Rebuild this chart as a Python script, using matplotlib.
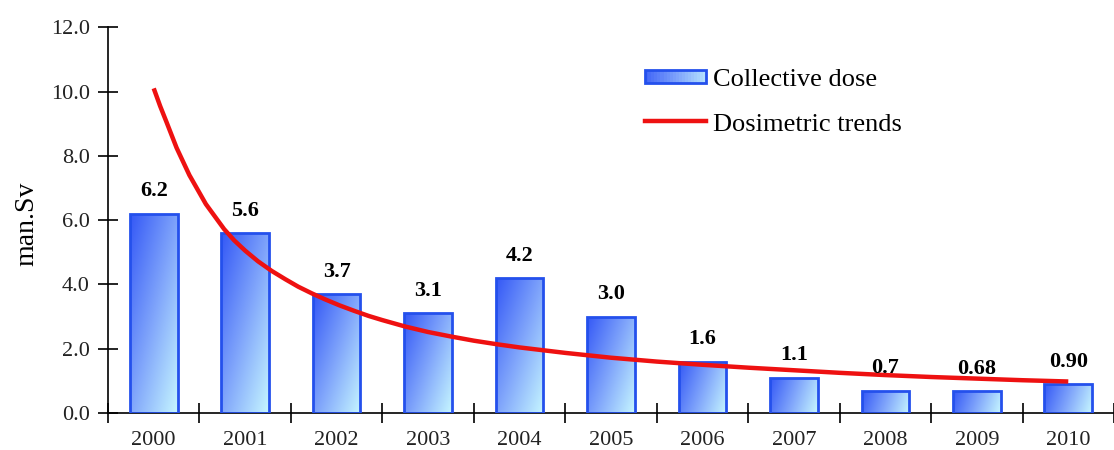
import numpy as np
import matplotlib
matplotlib.use("Agg")
import matplotlib.pyplot as plt
from matplotlib.colors import LinearSegmentedColormap
from matplotlib.patches import Rectangle
from matplotlib.lines import Line2D
from matplotlib.legend_handler import HandlerBase

years = ["2000", "2001", "2002", "2003", "2004", "2005", "2006", "2007", "2008", "2009", "2010"]
collective_dose = [6.2, 5.6, 3.7, 3.1, 4.2, 3.0, 1.6, 1.1, 0.7, 0.68, 0.90]
dose_labels = ["6.2", "5.6", "3.7", "3.1", "4.2", "3.0", "1.6", "1.1", "0.7", "0.68", "0.90"]
# trend curve (position in year index, value)
trend_pos = [0.0, 0.07, 0.14, 0.25, 0.39, 0.57, 0.77, 0.88, 1.0, 1.14, 1.29, 1.44, 1.58, 1.73, 1.87,
             2.03, 2.19, 2.35, 2.5, 2.75, 3.0, 3.25, 3.5, 3.75, 4.0, 4.5, 5.0, 5.5, 6.0, 6.5, 7.0,
             7.5, 8.0, 8.5, 9.0, 9.5, 10.0]
trend_val = [10.1, 9.55, 9.05, 8.25, 7.4, 6.5, 5.72, 5.37, 5.05, 4.72, 4.42, 4.16, 3.93, 3.72, 3.54,
             3.35, 3.18, 3.02, 2.89, 2.69, 2.52, 2.38, 2.25, 2.14, 2.04, 1.87, 1.72, 1.6, 1.5, 1.41,
             1.33, 1.25, 1.18, 1.12, 1.07, 1.02, 0.98]
yticks = [0, 2, 4, 6, 8, 10, 12]

plt.rcParams['font.family'] = ['Liberation Serif', 'DejaVu Serif']

fig = plt.figure(figsize=(11.14, 4.5), dpi=100)
ax = fig.add_axes([108/1114, 37/450, 1 - 108/1114, 385.7/450])

cmap = LinearSegmentedColormap.from_list("bar", ["#3458f6", "#7fa4fb", "#c6f6ff"])
edge = "#2450ec"
width = 0.52
x = np.arange(len(years))
bars = ax.bar(x, collective_dose, width=width, facecolor="none", edgecolor=edge, linewidth=2, zorder=3)

# diagonal gradient: dark at top-left, light at bottom-right
gx, gy = np.meshgrid(np.linspace(0, 1, 60), np.linspace(0, 1, 200))
for b in bars:
    x0, h = b.get_x(), b.get_height()
    hw = h * 32.1 / 48.0
    k = min(hw, 3) * 0.35
    grad = (gx + gy * k) / (1.0 + k)
    im = ax.imshow(grad, cmap=cmap, extent=(x0, x0 + width, 0, h), origin="upper",
                   aspect="auto", zorder=2, vmin=0, vmax=1)
    im.set_clip_path(b)

for xi, v, lab in zip(x, collective_dose, dose_labels):
    ax.annotate(lab, (xi, v), xytext=(0, 9), textcoords="offset points",
                ha="center", va="bottom", fontsize=16, fontweight="bold", zorder=5)

ax.plot(trend_pos, trend_val, color="#ee1111", linewidth=3.2, zorder=4,
        solid_capstyle="butt", solid_joinstyle="round")

ax.set_xlim(-0.5, 10.38)
ax.set_ylim(0, 12)
ax.set_yticks(yticks)
ax.set_yticklabels([f"{t:.1f}" for t in yticks], fontsize=16, color="#222222")
ax.set_xticks(x)
ax.set_xticklabels(years, fontsize=16, color="#222222")
ax.tick_params(axis="x", which="major", length=0, pad=13)
ax.set_xticks(np.arange(-0.5, 10.6, 1.0), minor=True)
ax.tick_params(axis="x", which="minor", direction="inout", length=14, width=1.2)
ax.tick_params(axis="y", which="major", direction="inout", length=14, width=1.2, pad=6)
for s in ["top", "right"]:
    ax.spines[s].set_visible(False)
for s in ["left", "bottom"]:
    ax.spines[s].set_linewidth(1.2)
ax.set_ylabel("man.Sv", fontsize=20)
ax.yaxis.set_label_coords(-0.068, 0.49)


class GradHandler(HandlerBase):
    def create_artists(self, legend, orig_handle, xdescent, ydescent, width, height, fontsize, trans):
        artists = []
        n = 20
        for i in range(n):
            r = Rectangle((-xdescent + width * i / n, -ydescent + height * 0.15), width / n, height * 0.7,
                          facecolor=cmap(0.1 + 0.8 * i / n), edgecolor="none", transform=trans)
            artists.append(r)
        frame = Rectangle((-xdescent, -ydescent + height * 0.15), width, height * 0.7,
                          facecolor="none", edgecolor=edge, linewidth=2, transform=trans)
        artists.append(frame)
        return artists


bar_handle = Rectangle((0, 0), 1, 1)
line_handle = Line2D([0], [0], color="#ee1111", linewidth=3.2)
ax.legend([bar_handle, line_handle], ["Collective dose", "Dosimetric trends"],
          handler_map={Rectangle: GradHandler()},
          loc="upper left", bbox_to_anchor=(0.521, 0.93), frameon=False, fontsize=19,
          handlelength=2.3, handletextpad=0.25, labelspacing=0.8, borderpad=0)

fig.savefig("out.png", dpi=100)
